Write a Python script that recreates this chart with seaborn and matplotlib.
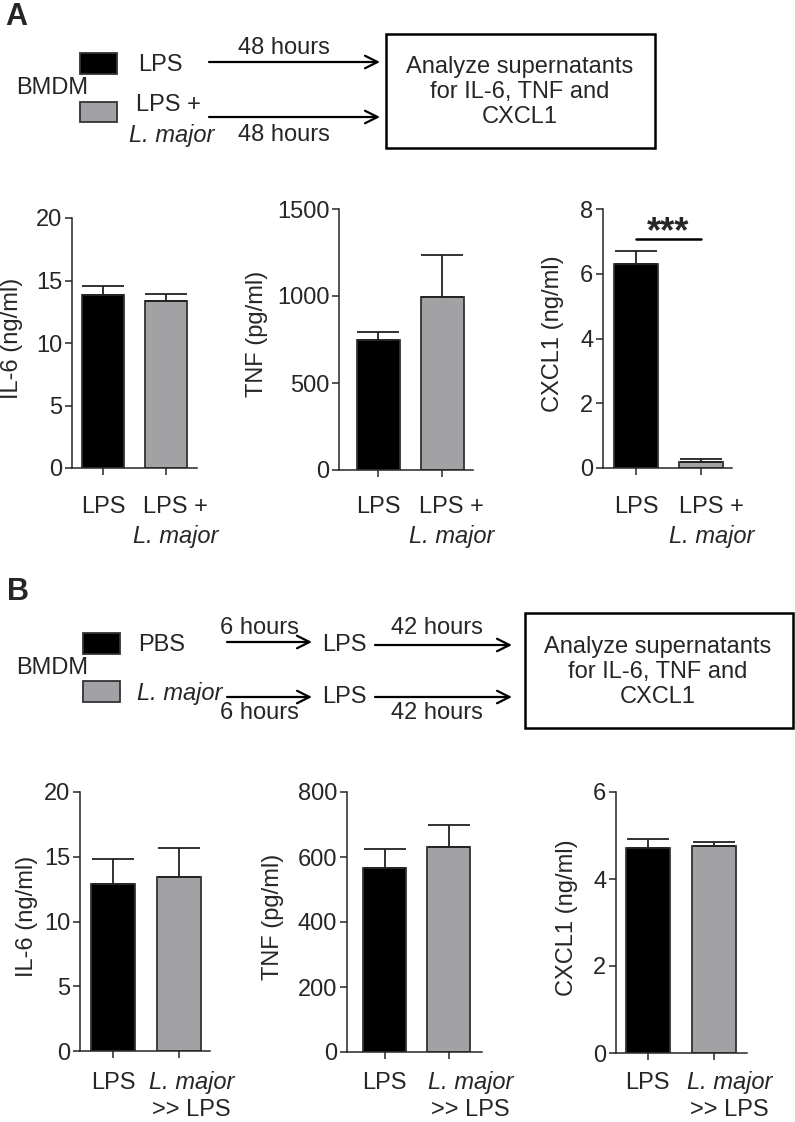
"""
Cytokine bar charts: LPS vs L. major infected BMDM (panels A and B)
"""

import numpy as np
import pandas as pd
import seaborn as sns
import matplotlib.pyplot as plt
import matplotlib.transforms as mtrans
from matplotlib.patches import Rectangle

sns.set_style('ticks')
plt.rcParams['font.family'] = ['Liberation Sans', 'DejaVu Sans']

# Data

groups = ['LPS', 'L. major']
# two-line x labels: (line 1, line 2) for each bar, italic flags per line
labels_a = [('LPS', ''), ('LPS +', 'L. major')]
italic_a = [(False, False), (False, True)]
labels_b = [('LPS', ''), ('L. major', '>> LPS')]
italic_b = [(False, False), (True, False)]

il6_a = [13.86, 13.33]
il6_a_err = [0.67, 0.59]
tnf_a = [747, 992]
tnf_a_err = [44, 244]
cxcl1_a = [6.30, 0.19]
cxcl1_a_err = [0.41, 0.09]

il6_b = [12.93, 13.47]
il6_b_err = [1.87, 2.18]
tnf_b = [566, 630]
tnf_b_err = [60, 69]
cxcl1_b = [4.72, 4.77]
cxcl1_b_err = [0.19, 0.09]

bar_colors = ['#000000', '#a2a1a6']

W, H = 795, 1122
FS = 17

fig = plt.figure(figsize=(W / 100, H / 100), dpi=100)


def ax_at(left, top, right, bottom):
    return fig.add_axes([left / W, 1 - bottom / H, (right - left) / W, (bottom - top) / H])


def bar_panel(box, vals, errs, ymax, yticks, xlim, ylabel, ylab_x, labels, italic,
              lab_dy, lab_shift, lab_gap=29):
    left, top, right, bottom = box
    ax = ax_at(*box)
    df = pd.DataFrame({'group': groups, 'value': vals})
    sns.barplot(data=df, x='group', y='value', hue='group', palette=bar_colors,
                legend=False, width=0.67, edgecolor='#333333', linewidth=1.3,
                errorbar=None, ax=ax)
    ax.errorbar(np.arange(len(vals)), vals, yerr=[np.zeros(len(errs)), errs],
                fmt='none', ecolor='#222222', elinewidth=1.3, capsize=15,
                capthick=1.3, zorder=1)
    ax.set_ylim(0, ymax)
    ax.set_yticks(yticks)
    ax.set_xlim(*xlim)
    ax.set_xlabel('')
    ax.set_xticks(range(len(vals)))
    ax.set_xticklabels([''] * len(vals))
    ax.set_ylabel(ylabel, fontsize=FS, va='center')
    ax.yaxis.set_label_coords((ylab_x - left) / (right - left), 0.52)
    ax.tick_params(axis='y', direction='out', length=5, width=1.1, pad=2, labelsize=FS)
    ax.tick_params(axis='x', direction='out', length=5, width=1.1)
    for s in ['left', 'bottom']:
        ax.spines[s].set_linewidth(1.1)
    sns.despine(ax=ax)

    # category labels below the axis (two lines, second bar shifted right)
    base = mtrans.blended_transform_factory(ax.transData, ax.transAxes)
    for i, (lines, its) in enumerate(zip(labels, italic)):
        for j, (s, it) in enumerate(zip(lines, its)):
            if not s:
                continue
            dy = lab_dy + lab_gap * j
            tr = base + mtrans.ScaledTranslation(0, -dy / 100, fig.dpi_scale_trans)
            ax.text(i + (lab_shift if i else 0), 0, s, transform=tr, ha='center',
                    va='center', fontsize=FS, style='italic' if it else 'normal')
    return ax


# Panel A bars

bar_panel((72, 218, 197, 468), il6_a, il6_a_err, 20, [0, 5, 10, 15, 20],
          (-0.5, 1.5), 'IL-6 (ng/ml)', 12, labels_a, italic_a, 39, 0.16)
bar_panel((339, 209, 473, 470), tnf_a, tnf_a_err, 1500, [0, 500, 1000, 1500],
          (-0.61, 1.48), 'TNF (pg/ml)', 257, labels_a, italic_a, 37, 0.14)
ax_c = bar_panel((603, 209, 732, 468), cxcl1_a, cxcl1_a_err, 8, [0, 2, 4, 6, 8],
                 (-0.51, 1.48), 'CXCL1 (ng/ml)', 553, labels_a, italic_a, 39, 0.17)
ax_c.plot([0, 1], [7.07, 7.07], color='black', lw=1.8, clip_on=False)
ax_c.text(0.5, 6.98, '***', ha='center', va='baseline', fontsize=26, fontweight='bold')

# Panel B bars

bar_panel((80, 792, 210, 1051), il6_b, il6_b_err, 20, [0, 5, 10, 15, 20],
          (-0.5, 1.47), 'IL-6 (ng/ml)', 27, labels_b, italic_b, 32, 0.19, 27)
bar_panel((347, 792, 482, 1052), tnf_b, tnf_b_err, 800, [0, 200, 400, 600, 800],
          (-0.59, 1.52), 'TNF (pg/ml)', 273, labels_b, italic_b, 31, 0.34, 27)
bar_panel((616, 792, 747, 1053), cxcl1_b, cxcl1_b_err, 6, [0, 2, 4, 6],
          (-0.48, 1.5), 'CXCL1 (ng/ml)', 567, labels_b, italic_b, 30, 0.24, 27)

# Schematics (pixel coordinates)

ov = fig.add_axes([0, 0, 1, 1], zorder=-1)
ov.set_xlim(0, W)
ov.set_ylim(H, 0)
ov.axis('off')

arrow = dict(arrowstyle='->,head_length=0.9,head_width=0.45', lw=1.6, color='black',
             shrinkA=0, shrinkB=0)


def arr(x0, x1, y):
    ov.annotate('', xy=(x1, y), xytext=(x0, y), arrowprops=arrow)


def txt(x, y, s, ha='left', size=FS, **kw):
    ov.text(x, y, s, ha=ha, va='center', fontsize=size, **kw)


# A
txt(5, 17, 'A', size=22, fontweight='bold')
ov.add_patch(Rectangle((80, 53), 37, 21, facecolor=bar_colors[0], edgecolor='#333333', lw=1.3))
ov.add_patch(Rectangle((80, 102), 37, 20, facecolor=bar_colors[1], edgecolor='#333333', lw=1.3))
txt(52, 88, 'BMDM', ha='center')
txt(138, 65, 'LPS')
txt(136, 105, 'LPS +')
txt(129, 135, 'L. major', style='italic')
arr(209, 380, 62)
arr(209, 380, 117)
txt(284, 48, '48 hours', ha='center')
txt(284, 135, '48 hours', ha='center')
ov.add_patch(Rectangle((386, 34), 269, 114, facecolor='none', edgecolor='black', lw=1.8))
txt(520, 92, 'Analyze supernatants\nfor IL-6, TNF and\nCXCL1', ha='center', linespacing=1.2)

# B
txt(7, 592, 'B', size=22, fontweight='bold')
ov.add_patch(Rectangle((83, 633), 37, 21, facecolor=bar_colors[0], edgecolor='#333333', lw=1.3))
ov.add_patch(Rectangle((83, 681), 37, 21, facecolor=bar_colors[1], edgecolor='#333333', lw=1.3))
txt(52, 668, 'BMDM', ha='center')
txt(138, 645, 'PBS')
txt(137, 693, 'L. major', style='italic')
arr(227, 312, 642)
arr(227, 312, 697)
txt(259, 628, '6 hours', ha='center')
txt(259, 713, '6 hours', ha='center')
txt(322, 645, 'LPS')
txt(322, 697, 'LPS')
arr(375, 512, 645)
arr(375, 512, 697)
txt(437, 628, '42 hours', ha='center')
txt(437, 713, '42 hours', ha='center')
ov.add_patch(Rectangle((525, 613), 268, 115, facecolor='none', edgecolor='black', lw=1.8))
txt(658, 672, 'Analyze supernatants\nfor IL-6, TNF and\nCXCL1', ha='center', linespacing=1.2)

plt.savefig('out.png', dpi=100)
